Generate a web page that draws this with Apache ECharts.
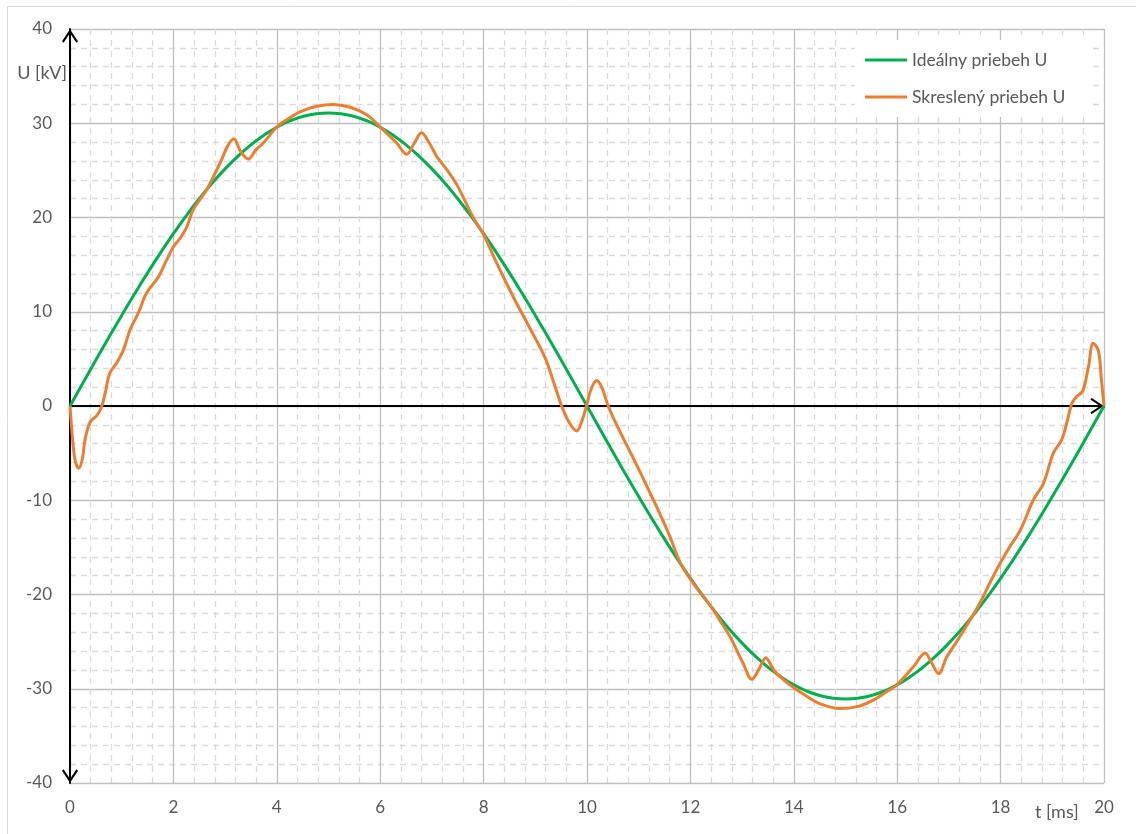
<!DOCTYPE html>
<html>
<head>
<meta charset="utf-8">
<script src="https://cdn.jsdelivr.net/npm/echarts@6/dist/echarts.min.js"></script>
<style>
html,body{margin:0;padding:0;background:#fff;}
#chart{width:1136px;height:834px;}
</style>
</head>
<body>
<div id="chart"></div>
<script>
// ---- data ----
const xTicks = [0, 2, 4, 6, 8, 10, 12, 14, 16, 18, 20];
const yTicks = [-40, -30, -20, -10, 0, 10, 20, 30, 40];

const tIdeal = [0,0.25,0.5,0.75,1,1.25,1.5,1.75,2,2.25,2.5,2.75,3,3.25,3.5,3.75,4,4.25,4.5,4.75,5,
  5.25,5.5,5.75,6,6.25,6.5,6.75,7,7.25,7.5,7.75,8,8.25,8.5,8.75,9,9.25,9.5,9.75,10,
  10.25,10.5,10.75,11,11.25,11.5,11.75,12,12.25,12.5,12.75,13,13.25,13.5,13.75,14,14.25,14.5,14.75,15,
  15.25,15.5,15.75,16,16.25,16.5,16.75,17,17.25,17.5,17.75,18,18.25,18.5,18.75,19,19.25,19.5,19.75,20];
const uIdeal = [0,2.44,4.87,7.26,9.61,11.90,14.12,16.25,18.28,20.20,21.99,23.65,25.16,26.52,27.71,28.73,29.58,30.24,30.72,31.00,31.1,
  31.00,30.72,30.24,29.58,28.73,27.71,26.52,25.16,23.65,21.99,20.20,18.28,16.25,14.12,11.90,9.61,7.26,4.87,2.44,0,
  -2.44,-4.87,-7.26,-9.61,-11.90,-14.12,-16.25,-18.28,-20.20,-21.99,-23.65,-25.16,-26.52,-27.71,-28.73,-29.58,-30.24,-30.72,-31.00,-31.1,
  -31.00,-30.72,-30.24,-29.58,-28.73,-27.71,-26.52,-25.16,-23.65,-21.99,-20.20,-18.28,-16.25,-14.12,-11.90,-9.61,-7.26,-4.87,-2.44,0];

const tDrawn = [0,0.05,0.1,0.17,0.24,0.29,0.39,0.52,0.61,0.68,0.77,0.9,1.03,1.16,1.32,1.48,1.71,1.87,2.0,2.13,2.26,2.38,
  2.64,2.77,2.93,3.05,3.17,3.3,3.45,3.6,3.74,4.0,4.2,4.45,4.77,5.09,5.42,5.74,6.0,6.32,6.51,6.65,6.8,6.95,7.09,7.16,
  7.35,7.5,7.8,8.0,8.2,8.4,8.6,8.9,9.19,9.38,9.51,9.65,9.8,9.9,9.99,10.08,10.19,10.3,10.41,10.6,10.8,11.0,11.2,11.4,
  11.6,11.8,11.99,12.2,12.44,12.6,12.77,13.02,13.19,13.32,13.46,13.57,13.67,13.93,14.25,14.51,14.89,15.22,15.54,15.8,
  15.99,16.31,16.54,16.67,16.8,16.96,17.15,17.41,17.6,17.92,18.18,18.38,18.63,18.83,19.02,19.18,19.28,19.38,19.47,
  19.59,19.7,19.79,19.89,19.95,20.0];
const uDrawn = [0,-3.5,-5.8,-6.6,-5.6,-3.6,-1.7,-1.0,-0.1,1.35,3.5,4.55,5.9,8.06,9.85,11.98,13.7,15.5,16.9,17.8,19.0,20.8,
  22.9,24.3,26.1,27.6,28.35,27.0,26.2,27.2,27.9,29.6,30.4,31.2,31.8,32.0,31.7,30.9,29.6,27.9,26.7,27.8,29.0,27.9,26.5,26.0,
  24.6,23.3,20.0,18.2,15.8,13.5,11.3,8.2,5.1,2.1,0,-1.7,-2.65,-1.6,0,1.8,2.7,1.8,0,-2.3,-4.5,-6.7,-9.0,-11.3,
  -13.8,-16.6,-18.3,-19.9,-21.6,-23.0,-24.5,-27.3,-29.0,-28.0,-26.7,-27.6,-28.4,-29.6,-30.8,-31.6,-32.1,-31.9,-31.2,-30.3,
  -29.6,-27.7,-26.2,-27.3,-28.4,-26.6,-25.0,-22.7,-20.9,-17.4,-14.9,-13.2,-10.0,-8.2,-5.0,-3.6,-1.8,0.3,1.0,
  1.6,4.2,6.65,5.9,2.8,0];

const seriesNames = ['Ideálny priebeh U', 'Skreslený priebeh U'];
const axisTitles = { y: 'U [kV]', x: 't [ms]' };

// ---- chart ----
const zip = (a, b) => a.map((v, i) => [v, b[i]]);
const FONT = 'Lato, "Open Sans", sans-serif';
const LABEL_COLOR = '#595959';
const chevron = 'path://M0,12 L8,0 L16,12 L14.4,13.4 L8,3.6 L1.6,13.4 Z';
const lineIcon = 'path://M0,0 L42,0 L42,3 L0,3 Z';

const chart = echarts.init(document.getElementById('chart'), null, { renderer: 'canvas' });
chart.setOption({
  animation: false,
  backgroundColor: '#ffffff',
  textStyle: { fontFamily: FONT },
  grid: { left: 70, top: 29, right: 32, bottom: 51, containLabel: false },
  xAxis: [{
    type: 'value', min: xTicks[0], max: xTicks[xTicks.length - 1], interval: 2, position: 'bottom',
    axisLine: { show: false, onZero: false }, axisTick: { show: false },
    axisLabel: { color: LABEL_COLOR, fontSize: 17, margin: 16, fontFamily: FONT,
      formatter: v => xTicks.includes(v) ? String(v) : '' },
    splitLine: { show: true, lineStyle: { color: '#bfbfbf', width: 1.3 } },
    minorTick: { show: false, splitNumber: 5 },
    minorSplitLine: { show: true, lineStyle: { color: '#dadada', width: 1.3, type: [6, 5] } }
  }, {
    type: 'value', min: 0, max: 20, interval: 2, position: 'bottom',
    axisLine: { show: true, onZero: true, onZeroAxisIndex: 0, lineStyle: { color: '#000', width: 2 },
      symbol: ['none', chevron], symbolSize: [16, 14], symbolOffset: [0, -7] },
    axisTick: { show: false }, axisLabel: { show: false }, splitLine: { show: false }
  }],
  yAxis: [{
    type: 'value', min: yTicks[0], max: yTicks[yTicks.length - 1], interval: 10,
    axisLine: { show: true, onZero: false, lineStyle: { color: '#000', width: 2 },
      symbol: [chevron, chevron], symbolSize: [16, 14], symbolOffset: [7, -7] },
    axisTick: { show: false },
    axisLabel: { color: LABEL_COLOR, fontSize: 17, margin: 18, fontFamily: FONT },
    splitLine: { show: true, lineStyle: { color: '#bfbfbf', width: 1.3 } },
    minorTick: { show: false, splitNumber: 5 },
    minorSplitLine: { show: true, lineStyle: { color: '#dadada', width: 1.3, type: [6, 5] } }
  }],
  legend: {
    orient: 'vertical', left: 855, top: 40,
    padding: [11, 24, 11, 10],
    backgroundColor: '#ffffff',
    icon: lineIcon,
    itemWidth: 42, itemHeight: 3, itemGap: 19,
    textStyle: { color: LABEL_COLOR, fontSize: 17.5, fontFamily: FONT, padding: [0, 0, 0, 0] },
    data: seriesNames
  },
  graphic: [
    { type: 'rect', shape: { x: 7.5, y: 6.5, width: 1140, height: 840 }, silent: true, z: -10,
      style: { fill: 'none', stroke: '#d9d9d9', lineWidth: 1 } },
    { type: 'text', x: 67, y: 73, z: 10,
      style: { text: axisTitles.y, fill: LABEL_COLOR, font: '18px ' + FONT, textAlign: 'right', textVerticalAlign: 'middle' } },
    { type: 'text', x: 1035, y: 812, z: 10,
      style: { text: axisTitles.x, fill: LABEL_COLOR, font: '18px ' + FONT, textAlign: 'left', textVerticalAlign: 'middle' } }
  ],
  series: [{
    name: seriesNames[0], type: 'line', xAxisIndex: 0, yAxisIndex: 0,
    data: zip(tIdeal, uIdeal), smooth: 0.5, symbol: 'none', showSymbol: false,
    lineStyle: { color: '#00b050', width: 3 }, itemStyle: { color: '#00b050' }, z: 3
  }, {
    name: seriesNames[1], type: 'line', xAxisIndex: 0, yAxisIndex: 0,
    data: zip(tDrawn, uDrawn), smooth: 0.35, symbol: 'none', showSymbol: false,
    lineStyle: { color: '#ed7d31', width: 3 }, itemStyle: { color: '#ed7d31' }, z: 4
  }]
});
</script>
</body>
</html>
